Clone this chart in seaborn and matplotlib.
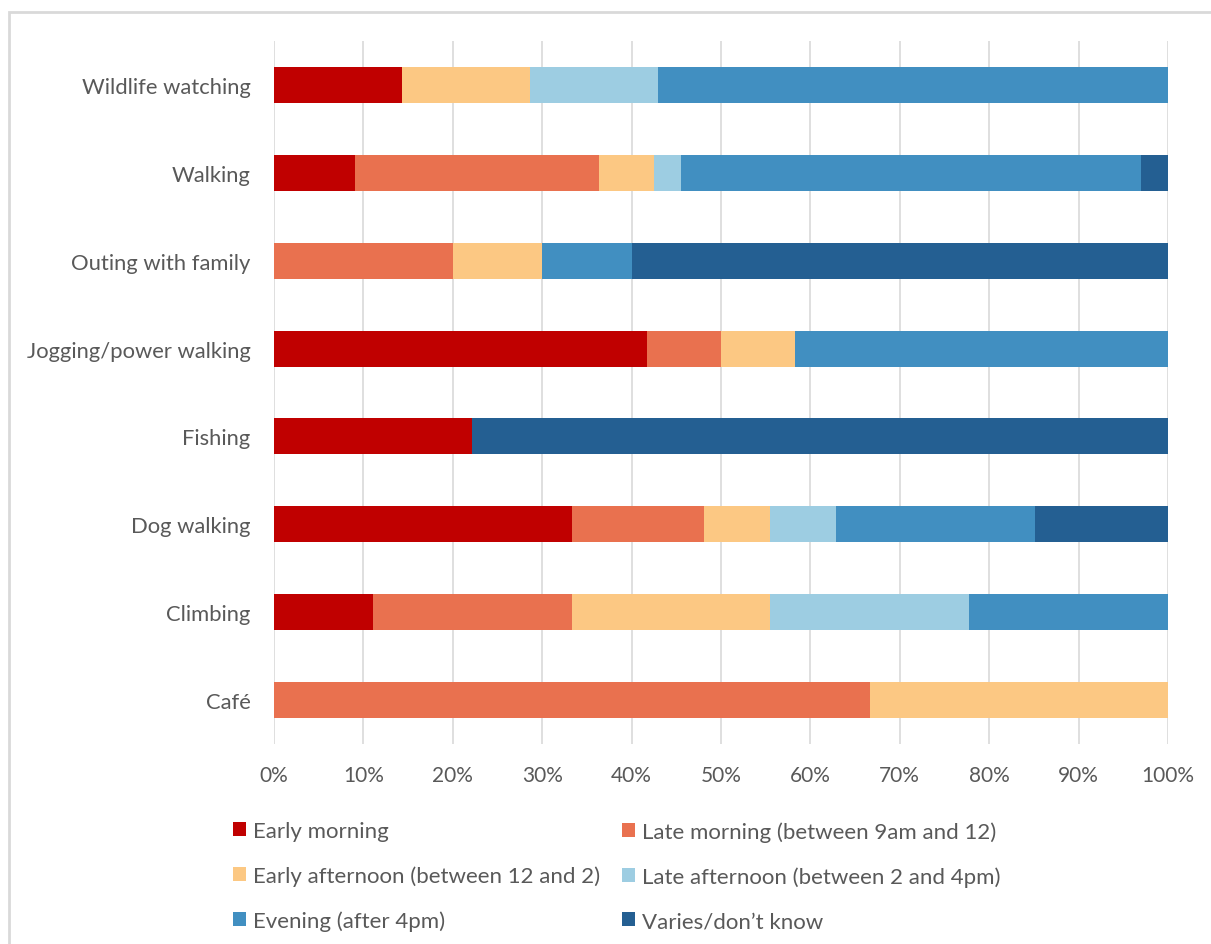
import numpy as np
import pandas as pd
import matplotlib
matplotlib.use("Agg")
import matplotlib.pyplot as plt
from matplotlib.patches import Rectangle
import seaborn as sns

# Activities, listed top to bottom
activities = ["Wildlife watching", "Walking", "Outing with family",
              "Jogging/power walking", "Fishing", "Dog walking", "Climbing", "Café"]

# Share of visits (%) by time of day for each activity
early_morning   = [14.3,  9.1,  0.0, 41.7, 22.2, 33.3, 11.1,  0.0]
late_morning    = [ 0.0, 27.3, 20.0,  8.3,  0.0, 14.8, 22.2, 66.7]
early_afternoon = [14.3,  6.1, 10.0,  8.3,  0.0,  7.4, 22.2, 33.3]
late_afternoon  = [14.3,  3.0,  0.0,  0.0,  0.0,  7.4, 22.2,  0.0]
evening         = [57.1, 51.5, 10.0, 41.7,  0.0, 22.2, 22.3,  0.0]
varies          = [ 0.0,  3.0, 60.0,  0.0, 77.8, 14.9,  0.0,  0.0]

series_names = ["Early morning", "Late morning (between 9am and 12)",
                "Early afternoon (between 12 and 2)", "Late afternoon (between 2 and 4pm)",
                "Evening (after 4pm)", "Varies/don\u2019t know"]
series_values = [early_morning, late_morning, early_afternoon,
                 late_afternoon, evening, varies]
series_colors = ["#C00000", "#E9714F", "#FCC883", "#9DCDE2", "#418FC1", "#245F92"]

x_ticks = [0, 10, 20, 30, 40, 50, 60, 70, 80, 90, 100]
x_tick_labels = [f"{t}%" for t in x_ticks]

sns.set_theme(style="white")
plt.rcParams["font.family"] = ["Lato", "DejaVu Sans"]
text_color = "#595959"
grid_color = "#D9D9D9"

df = pd.DataFrame({"activity": activities})
for name, vals in zip(series_names, series_values):
    df[name] = vals
cum = df[series_names].cumsum(axis=1)

fig = plt.figure(figsize=(12.11, 9.45), dpi=100)
ax = fig.add_axes([274 / 1211, 1 - 745 / 945, (1168 - 274) / 1211, (745 - 42) / 945])

# Stack by overlaying cumulative totals, widest first
handles = {}
for name, color in reversed(list(zip(series_names, series_colors))):
    sns.barplot(data=cum.assign(activity=activities), x=name, y="activity",
                orient="h", color=color, width=0.41, saturation=1,
                linewidth=0, ax=ax, zorder=3)
    handles[name] = Rectangle((0, 0), 1, 1, facecolor=color, edgecolor="none")

ax.set_xlim(0, 100)
ax.set_xticks(x_ticks)
ax.set_xticklabels(x_tick_labels)
ax.set_xlabel("")
ax.set_ylabel("")
for s in ax.spines.values():
    s.set_visible(False)
ax.grid(axis="x", color=grid_color, linewidth=1.2, zorder=0)
ax.grid(axis="y", visible=False)
ax.tick_params(axis="x", length=0, pad=15, labelsize=15, labelcolor=text_color)
ax.tick_params(axis="y", length=0, pad=17, labelsize=15.8, labelcolor=text_color)
ax.set_axisbelow(True)

# Legend laid out in two columns, filled row by row
col1 = [series_names[0], series_names[2], series_names[4]]
col2 = [series_names[1], series_names[3], series_names[5]]
leg_kw = dict(frameon=False, fontsize=16, labelcolor=text_color,
              handlelength=0.58, handleheight=0.58, handletextpad=0.32,
              labelspacing=1.1, borderpad=0, borderaxespad=0, loc="upper left")
leg1 = fig.legend([handles[n] for n in col1], col1,
                  bbox_to_anchor=(233 / 1211, 1 - 822 / 945), **leg_kw)
leg2 = fig.legend([handles[n] for n in col2], col2,
                  bbox_to_anchor=(622 / 1211, 1 - 822 / 945), **leg_kw)

# Chart frame
fig.patches.append(Rectangle((9 / 1211, -0.1), 1.2, 1 - 13 / 945 + 0.1,
                             transform=fig.transFigure, fill=False,
                             edgecolor=grid_color, linewidth=2))

fig.savefig("out.png", dpi=100, facecolor="white")
